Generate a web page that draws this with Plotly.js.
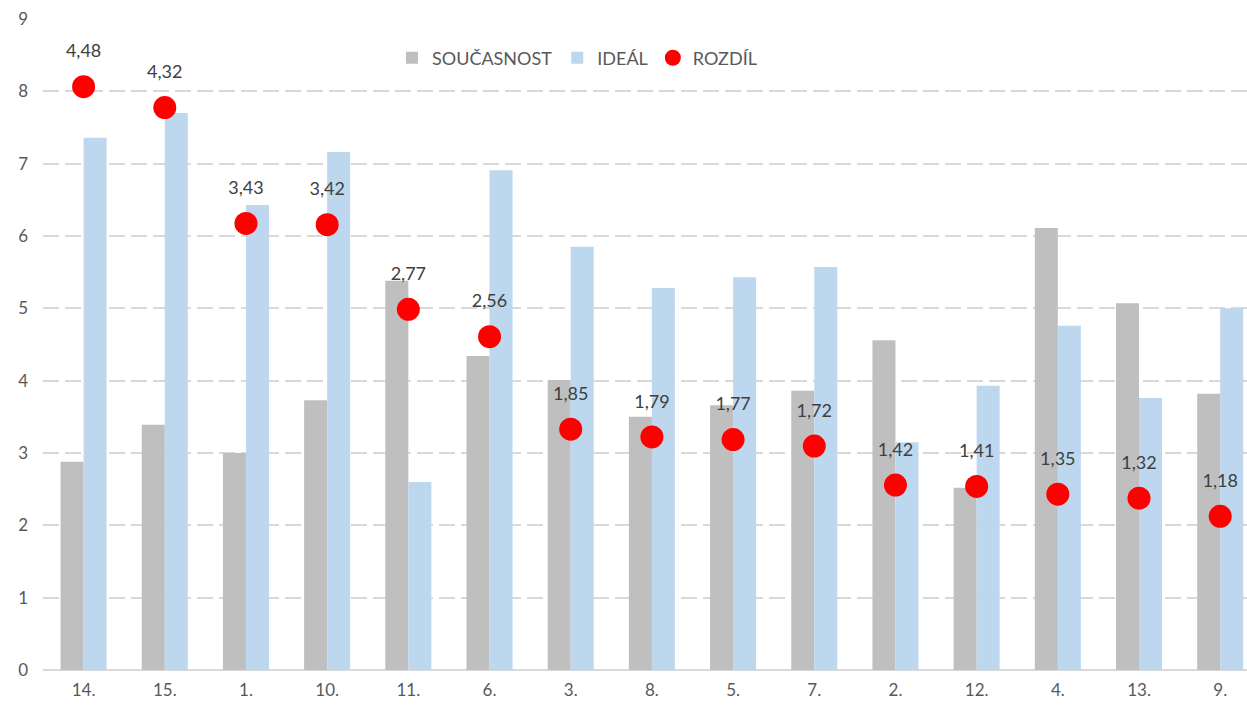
<!DOCTYPE html>
<html>
<head>
<meta charset="utf-8">
<script src="https://cdn.plot.ly/plotly-3.0.1.min.js"></script>
<style>html,body{margin:0;padding:0;background:#fff;}#chart{width:1247px;height:706px;}</style>
</head>
<body>
<div id="chart"></div>
<script>
const categories = ["14.", "15.", "1.", "10.", "11.", "6.", "3.", "8.", "5.", "7.", "2.", "12.", "4.", "13.", "9."];
const soucasnost = [2.88, 3.39, 3.00, 3.73, 5.38, 4.34, 4.01, 3.50, 3.66, 3.86, 4.56, 2.52, 6.11, 5.07, 3.82];
const idealValues = [7.36, 7.70, 6.43, 7.16, 2.60, 6.91, 5.85, 5.28, 5.43, 5.57, 3.15, 3.93, 4.76, 3.76, 5.00];
const rozdil = [4.48, 4.32, 3.43, 3.42, 2.77, 2.56, 1.85, 1.79, 1.77, 1.72, 1.42, 1.41, 1.35, 1.32, 1.18];
const yTicks = [0, 1, 2, 3, 4, 5, 6, 7, 8, 9];

const fontFam = "Lato, 'Open Sans', sans-serif";

const traces = [
  {type: 'bar', name: 'SOUČASNOST', x: categories, y: soucasnost,
   marker: {color: '#bfbfbf'}, hoverinfo: 'skip'},
  {type: 'bar', name: 'IDEÁL', x: categories, y: idealValues,
   marker: {color: '#bdd7ee'}, hoverinfo: 'skip'},
  {type: 'scatter', mode: 'markers', name: 'ROZDÍL', x: categories, y: rozdil,
   yaxis: 'y2', marker: {color: '#ff0000', size: 23}, hoverinfo: 'skip'},
  {type: 'scatter', mode: 'markers+text', name: 'labels', showlegend: false,
   x: categories, y: rozdil, yaxis: 'y2',
   marker: {color: 'rgba(0,0,0,0)', size: 38},
   texttemplate: '%{y:.2f}', textposition: 'top center',
   textfont: {family: fontFam, size: 18, color: '#404040'},
   hoverinfo: 'skip'}
];

const layout = {
  width: 1247, height: 706,
  margin: {l: 43, r: 0, t: 19, b: 36},
  paper_bgcolor: '#ffffff', plot_bgcolor: '#ffffff',
  separators: ', ',
  barmode: 'group', bargap: 0.433, bargroupgap: 0,
  font: {family: fontFam, size: 17, color: '#595959'},
  showlegend: true,
  legend: {orientation: 'h', x: 0.4435, xanchor: 'center', y: 0.94, yanchor: 'middle',
    font: {family: fontFam, size: 18, color: '#595959'}, itemwidth: 30, bgcolor: 'rgba(0,0,0,0)'},
  xaxis: {type: 'category', range: [-0.5, 14.33], showgrid: false, zeroline: false,
    showline: false, ticks: '', tickfont: {family: fontFam, size: 17, color: '#595959'},
    ticklabelstandoff: 8},
  yaxis: {range: [0, 9], tickvals: yTicks, ticktext: yTicks.map(String),
    showgrid: true, gridcolor: '#d9d9d9', gridwidth: 2, griddash: '16px,6px',
    zeroline: true, zerolinecolor: '#d9d9d9', zerolinewidth: 2,
    showline: false, ticks: '', tickfont: {family: fontFam, size: 17, color: '#595959'},
    ticklabelstandoff: 14},
  yaxis2: {range: [0, 5], overlaying: 'y', side: 'right', visible: false, showgrid: false, zeroline: false}
};

Plotly.newPlot('chart', traces, layout, {displayModeBar: false, staticPlot: true});
</script>
</body>
</html>
